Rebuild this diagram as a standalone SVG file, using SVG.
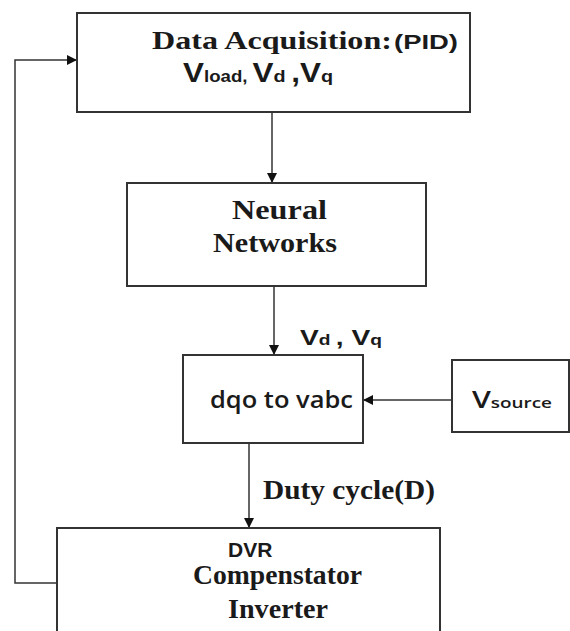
<svg xmlns="http://www.w3.org/2000/svg" width="570" height="631" viewBox="0 0 570 631">
<defs>
<marker id="ah" markerWidth="10" markerHeight="10" refX="9" refY="5" orient="auto" markerUnits="userSpaceOnUse">
<path d="M0,0 L10,5 L0,10 Z" fill="#111"/>
</marker>
<style>
.box{fill:#fff;stroke:#333;stroke-width:2}
.ln{fill:none;stroke:#333;stroke-width:1.5}
.serif{font-family:"Liberation Serif","Times New Roman",serif;font-weight:bold;fill:#1a1a1a}
.sans{font-family:"Liberation Sans",Arial,sans-serif;font-weight:bold;fill:#1a1a1a}
.cal{font-family:"Open Sans","Liberation Sans",sans-serif;fill:#1a1a1a}
</style>
</defs>
<rect width="570" height="631" fill="#fff"/>
<g id="connectors">
<path class="ln" d="M272,112 V182" marker-end="url(#ah)"/>
<path class="ln" d="M274,286 V354" marker-end="url(#ah)"/>
<path class="ln" d="M452,400 H364" marker-end="url(#ah)"/>
<path class="ln" d="M249,443 V527" marker-end="url(#ah)"/>
<path class="ln" d="M57,583 H15 V60 H76" marker-end="url(#ah)"/>
</g>
<g id="data-acquisition">
<rect class="box" x="77" y="13" width="393" height="99"/>
<text x="152" y="49" class="serif" font-size="25" textLength="240" lengthAdjust="spacingAndGlyphs">Data Acquisition:</text>
<text x="394" y="49" class="sans" font-size="21" textLength="64" lengthAdjust="spacingAndGlyphs">(PID)</text>
<text x="183" y="82" class="sans" font-size="27" textLength="150" lengthAdjust="spacingAndGlyphs">V<tspan font-size="16">load, </tspan>V<tspan font-size="17">d </tspan>,V<tspan font-size="17">q</tspan></text>
</g>
<g id="neural-networks">
<rect class="box" x="127" y="183" width="299" height="103"/>
<text x="232" y="219" class="serif" font-size="28" textLength="95" lengthAdjust="spacingAndGlyphs">Neural</text>
<text x="213" y="252" class="serif" font-size="28" textLength="124" lengthAdjust="spacingAndGlyphs">Networks</text>
</g>
<text x="300" y="345" class="sans" font-size="22" textLength="82" lengthAdjust="spacingAndGlyphs">V<tspan font-size="15">d </tspan>, V<tspan font-size="15">q</tspan></text>
<g id="dqo-to-vabc">
<rect class="box" x="183" y="355" width="180" height="88"/>
<text x="210" y="408" class="cal" font-size="23" font-weight="600" textLength="143" lengthAdjust="spacingAndGlyphs">dqo to vabc</text>
</g>
<g id="vsource">
<rect class="box" x="452" y="360" width="117" height="72"/>
<text x="472" y="408" class="cal" font-size="24" font-weight="600" textLength="80" lengthAdjust="spacingAndGlyphs">V<tspan font-size="15">source</tspan></text>
</g>
<text x="263" y="499" class="serif" font-size="27" textLength="172" lengthAdjust="spacingAndGlyphs">Duty cycle(D)</text>
<g id="dvr">
<rect class="box" x="57" y="528" width="383" height="110"/>
<text x="228" y="557" class="sans" font-size="21">DVR</text>
<text x="193" y="584" class="serif" font-size="27" textLength="169" lengthAdjust="spacingAndGlyphs">Compenstator</text>
<text x="228" y="618" class="serif" font-size="27" textLength="100" lengthAdjust="spacingAndGlyphs">Inverter</text>
</g>
</svg>
